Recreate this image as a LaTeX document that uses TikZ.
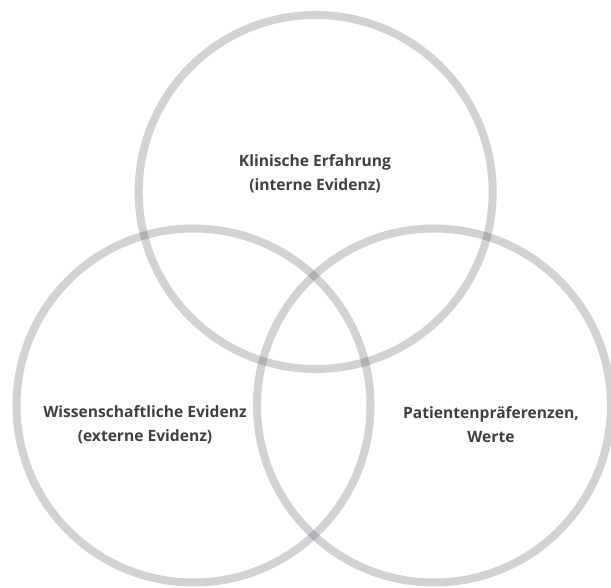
\documentclass[tikz,border=0pt]{standalone}
\usepackage{fontspec}
\setmainfont{Open Sans}
\definecolor{ringc}{RGB}{80,84,92}
\definecolor{txtc}{RGB}{64,64,64}
\begin{document}
\begin{tikzpicture}[x=1pt,y=1pt,
  ring/.style={draw=ringc,draw opacity=0.263,line width=8pt},
  lbl/.style={align=center,text=txtc,font=\bfseries\fontsize{15.6}{24}\selectfont}]
\useasboundingbox (0,0) rectangle (611,587);
\node[ring,circle,minimum size=354pt,inner sep=0pt] (top) at (315.7,395) {};
\node[ring,circle,minimum size=354pt,inner sep=0pt] (left) at (193.5,181.5) {};
\node[ring,circle,minimum size=354pt,inner sep=0pt] (right) at (434,181.5) {};
\node[lbl] (ttop) at (315,413) {Klinische Erfahrung\\(interne Evidenz)};
\node[lbl] (tleft) at (145,162) {Wissenschaftliche Evidenz\\(externe Evidenz)};
\node[lbl] (tright) at (491,162) {Patientenpräferenzen,\\Werte};
\end{tikzpicture}
\end{document}
